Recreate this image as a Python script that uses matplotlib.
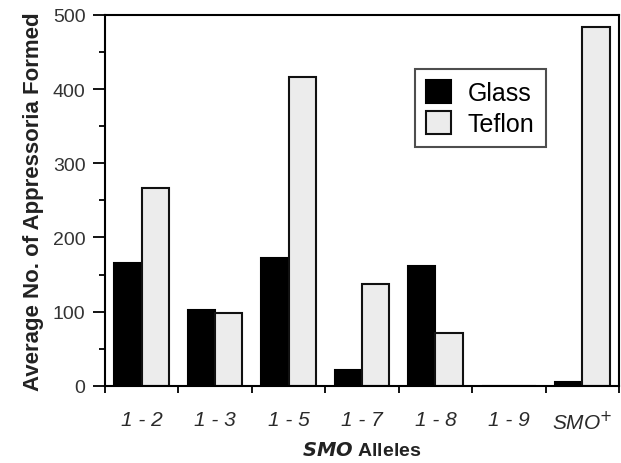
import numpy as np
import matplotlib.pyplot as plt
from matplotlib.ticker import MultipleLocator

# data
alleles = ['1 - 2', '1 - 3', '1 - 5', '1 - 7', '1 - 8', '1 - 9', 'SMO$^{+}$']
glass = [166, 103, 172, 21, 162, 0, 6]
teflon = [267, 98, 416, 137, 71, 0, 484]

plt.rcParams['font.family'] = ['Liberation Sans', 'DejaVu Sans']

fig = plt.figure(figsize=(6.21, 4.64), dpi=100)
ax = fig.add_axes([0.169, 0.166, 0.828, 0.800])

x = np.arange(len(alleles)) + 0.5
w = 0.37
ax.bar(x - w / 2, glass, width=w, color='black', edgecolor='black',
       linewidth=1.5, label='Glass')
ax.bar(x + w / 2, teflon, width=w, color='#ececec', edgecolor='#111111',
       linewidth=1.5, label='Teflon')

ax.set_xlim(0, 7)
ax.set_ylim(0, 500)
ax.set_xticks(np.arange(0, 8))
ax.set_xticklabels([])
ax.set_xticks(x, minor=True)
ax.set_xticklabels(alleles, minor=True, fontstyle='italic', fontsize=15,
                   color='#2a2a2a')
ax.tick_params(axis='x', which='minor', length=0, pad=17)
ax.tick_params(axis='x', which='major', length=5, width=1.3, direction='out')

ax.yaxis.set_major_locator(MultipleLocator(100))
ax.yaxis.set_minor_locator(MultipleLocator(50))
ax.tick_params(axis='y', which='major', length=9, width=1.3, labelsize=14,
               labelcolor='#333333', pad=5)
ax.tick_params(axis='y', which='minor', length=4, width=1.3)

for s in ax.spines.values():
    s.set_linewidth(1.5)

ax.set_ylabel('Average No. of Appressoria Formed', fontsize=16,
              fontweight='bold', color='#222222', labelpad=6)
ax.set_xlabel(r'$\boldsymbol{SMO}$ Alleles', fontsize=14, fontweight='bold',
              color='#222222', labelpad=6)

leg = ax.legend(loc='upper left', bbox_to_anchor=(0.603, 0.854), fontsize=18,
                frameon=True, fancybox=False, edgecolor='#222222',
                handlelength=1.0, handleheight=1.0, borderpad=0.45,
                labelspacing=0.25, handletextpad=0.65, borderaxespad=0)
leg.get_frame().set_linewidth(1.5)

plt.savefig('out.png', dpi=100)
